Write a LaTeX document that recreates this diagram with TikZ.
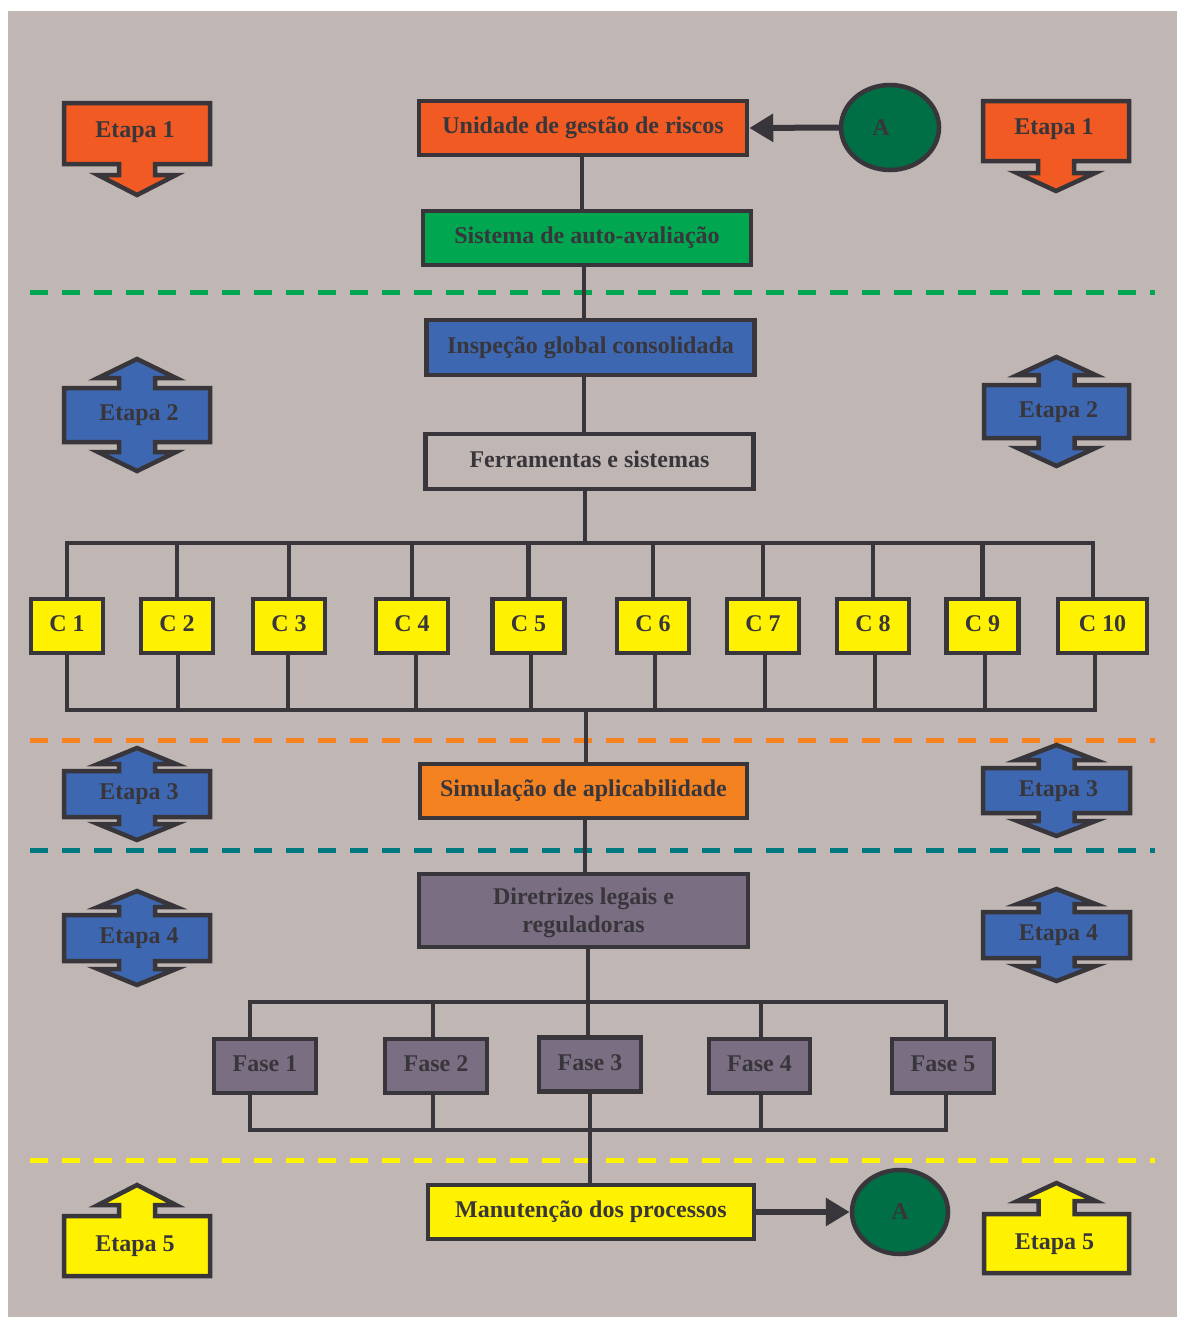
\documentclass[tikz,border=0pt]{standalone}
\usepackage{fontspec}
\setmainfont{Liberation Serif}
\usetikzlibrary{shapes.geometric,arrows.meta}

\definecolor{paper}{HTML}{C0B6B3}
\definecolor{ink}{HTML}{38363B}
\definecolor{laranja}{HTML}{F15A22}
\definecolor{verde}{HTML}{00A650}
\definecolor{verdeesc}{HTML}{006F45}
\definecolor{azul}{HTML}{3D67B0}
\definecolor{amarelo}{HTML}{FFF200}
\definecolor{lilas}{HTML}{7A6E83}
\definecolor{laranjaclaro}{HTML}{F58220}
\definecolor{petroleo}{HTML}{00787F}

\newcommand{\diagfont}{\fontsize{24}{28}\selectfont\bfseries}

\tikzset{
  basebox/.style={draw=ink, line width=4.5pt, rectangle, inner sep=0pt,
    font=\diagfont, text=ink, align=center},
  box/.style={basebox, text height=16pt, text depth=5pt, minimum height=54pt},
  mainbox/.style={box, minimum width=328pt},
  cbox/.style={box, fill=amarelo, minimum width=72pt},
  fasebox/.style={box, fill=lilas, minimum width=102pt},
  link/.style={draw=ink, line width=4.5pt, line join=miter},
  flow/.style={draw=ink, line width=6pt, -{Triangle[length=24pt,width=27pt]}},
  marco/.style={ellipse, draw=ink, line width=4.5pt, fill=verdeesc, inner sep=0pt},
  divisa/.style={line width=5pt, dash pattern=on 18pt off 14pt},
  stage/.style={draw=ink, line width=4.5pt, line join=miter, miter limit=12},
  stagetext/.style={font=\diagfont, text=ink, text height=16pt, text depth=5pt, inner sep=0pt},
}

% Stage block with arrow heads above and below
% #1 name, #2 x1, #3 y1, #4 x2, #5 y2 (outer edges), #6 stem, #7 head, #8 fill, #9 text
\newcommand{\EtapaDupla}[9]{%
  \pgfmathsetmacro{\ecx}{(#2+#4)/2}%
  \pgfmathsetmacro{\ea}{#2+2}\pgfmathsetmacro{\eb}{#4-2}%
  \pgfmathsetmacro{\et}{#3+2}\pgfmathsetmacro{\eu}{#5-2}%
  \pgfmathsetmacro{\esl}{\ecx-18}\pgfmathsetmacro{\esr}{\ecx+18}%
  \pgfmathsetmacro{\ehl}{\ecx-39}\pgfmathsetmacro{\ehr}{\ecx+39}%
  \pgfmathsetmacro{\etb}{#3-#6+2}\pgfmathsetmacro{\ett}{#3-#6-#7+2}%
  \pgfmathsetmacro{\ebb}{#5+#6-2}\pgfmathsetmacro{\ebt}{#5+#6+#7-2}%
  \draw[stage, fill=#8] (\ea,\et) -- (\esl,\et) -- (\esl,\etb) -- (\ehl,\etb)
    -- (\ecx,\ett) -- (\ehr,\etb) -- (\esr,\etb) -- (\esr,\et) -- (\eb,\et)
    -- (\eb,\eu) -- (\esr,\eu) -- (\esr,\ebb) -- (\ehr,\ebb) -- (\ecx,\ebt)
    -- (\ehl,\ebb) -- (\esl,\ebb) -- (\esl,\eu) -- (\ea,\eu) -- cycle;
  \node[stagetext] (#1) at (\ecx+2,{(#3+#5)/2}) {#9};
}

% Stage block with a single arrow head below
\newcommand{\EtapaBaixo}[9]{%
  \pgfmathsetmacro{\ecx}{(#2+#4)/2}%
  \pgfmathsetmacro{\ea}{#2+2}\pgfmathsetmacro{\eb}{#4-2}%
  \pgfmathsetmacro{\et}{#3+2}\pgfmathsetmacro{\eu}{#5-2}%
  \pgfmathsetmacro{\esl}{\ecx-18}\pgfmathsetmacro{\esr}{\ecx+18}%
  \pgfmathsetmacro{\ehl}{\ecx-39}\pgfmathsetmacro{\ehr}{\ecx+39}%
  \pgfmathsetmacro{\ebb}{#5+#6-2}\pgfmathsetmacro{\ebt}{#5+#6+#7-2}%
  \draw[stage, fill=#8] (\ea,\et) -- (\eb,\et)
    -- (\eb,\eu) -- (\esr,\eu) -- (\esr,\ebb) -- (\ehr,\ebb) -- (\ecx,\ebt)
    -- (\ehl,\ebb) -- (\esl,\ebb) -- (\esl,\eu) -- (\ea,\eu) -- cycle;
  \node[stagetext] (#1) at (\ecx-2,{(#3+#5)/2-2}) {#9};
}

% Stage block with a single arrow head above
\newcommand{\EtapaCima}[9]{%
  \pgfmathsetmacro{\ecx}{(#2+#4)/2}%
  \pgfmathsetmacro{\ea}{#2+2}\pgfmathsetmacro{\eb}{#4-2}%
  \pgfmathsetmacro{\et}{#3+2}\pgfmathsetmacro{\eu}{#5-2}%
  \pgfmathsetmacro{\esl}{\ecx-18}\pgfmathsetmacro{\esr}{\ecx+18}%
  \pgfmathsetmacro{\ehl}{\ecx-39}\pgfmathsetmacro{\ehr}{\ecx+39}%
  \pgfmathsetmacro{\etb}{#3-#6+2}\pgfmathsetmacro{\ett}{#3-#6-#7+2}%
  \draw[stage, fill=#8] (\ea,\et) -- (\esl,\et) -- (\esl,\etb) -- (\ehl,\etb)
    -- (\ecx,\ett) -- (\ehr,\etb) -- (\esr,\etb) -- (\esr,\et) -- (\eb,\et)
    -- (\eb,\eu) -- (\ea,\eu) -- cycle;
  \node[stagetext] (#1) at (\ecx-2,{(#3+#5)/2}) {#9};
}

\begin{document}
\begin{tikzpicture}[x=1pt,y=-1pt]
\useasboundingbox (0,0) rectangle (1177,1317);
\fill[paper] (8,11) rectangle (1177,1317);

% phase dividers
\draw[divisa, draw=verde] (30,292) -- (1155,292);
\draw[divisa, draw=laranjaclaro] (30,740) -- (1155,740);
\draw[divisa, draw=petroleo] (30,850) -- (1155,850);
\draw[divisa, draw=amarelo] (30,1160) -- (1155,1160);

% stage markers
\EtapaBaixo{e1l}{62}{101}{212}{166}{11}{20}{laranja}{Etapa 1}
\EtapaBaixo{e1r}{981}{99}{1131}{163}{12}{18}{laranja}{Etapa 1}
\EtapaDupla{e2l}{62}{386}{212}{444}{10}{19}{azul}{Etapa 2}
\EtapaDupla{e2r}{982}{383}{1131}{440}{10}{18}{azul}{Etapa 2}
\EtapaDupla{e3l}{62}{769}{212}{819}{7}{16}{azul}{Etapa 3}
\EtapaDupla{e3r}{981}{766}{1132}{815}{8}{15}{azul}{Etapa 3}
\EtapaDupla{e4l}{62}{913}{212}{963}{8}{16}{azul}{Etapa 4}
\EtapaDupla{e4r}{981}{910}{1132}{960}{8}{15}{azul}{Etapa 4}
\EtapaCima{e5l}{62}{1214}{212}{1278}{11}{20}{amarelo}{Etapa 5}
\EtapaCima{e5r}{982}{1212}{1131}{1275}{13}{18}{amarelo}{Etapa 5}

% main flow
\node[mainbox, fill=laranja] (uni) at (583,128) {Unidade de gestão de riscos};
\node[mainbox, fill=verde] (sis) at (587,238) {Sistema de auto-avaliação};
\node[mainbox, fill=azul, minimum height=55pt] (insp) at (590.5,347.5) {Inspeção global consolidada};
\node[mainbox, minimum height=55pt] (ferr) at (589.5,461.5) {Ferramentas e sistemas};
\node[mainbox, fill=laranjaclaro, minimum width=327pt] (sim) at (583.5,791) {Simulação de aplicabilidade};
\node[basebox, fill=lilas, minimum width=329pt, minimum height=73pt, text depth=0pt] (dir) at (583.5,910.5)
  {Diretrizes legais e\\reguladoras};
\node[mainbox, fill=amarelo, minimum width=326pt] (man) at (591,1212) {Manutenção dos processos};

\node[marco, minimum width=98pt, minimum height=85pt,
  label={[font=\diagfont, text=ink, xshift=-9pt]center:A}] (atop) at (890,127.5) {};
\node[marco, minimum width=96pt, minimum height=84pt,
  label={[font=\diagfont, text=ink]center:A}] (abot) at (900,1212) {};

% control points
\node[cbox] (c1) at (67,626) {C 1};
\node[cbox] (c2) at (177,626) {C 2};
\node[cbox] (c3) at (289,626) {C 3};
\node[cbox] (c4) at (412,626) {C 4};
\node[cbox] (c5) at (528.5,626) {C 5};
\node[cbox] (c6) at (653,626) {C 6};
\node[cbox] (c7) at (763,626) {C 7};
\node[cbox] (c8) at (873,626) {C 8};
\node[cbox] (c9) at (982.5,626) {C 9};
\node[cbox, minimum width=89pt] (c10) at (1102.5,626) {C 10};

% phases
\node[fasebox] (f1) at (265,1066) {Fase 1};
\node[fasebox] (f2) at (436,1066) {Fase 2};
\node[fasebox] (f3) at (590,1064.5) {Fase 3};
\node[fasebox, minimum width=101pt] (f4) at (759.5,1066) {Fase 4};
\node[fasebox] (f5) at (943,1066) {Fase 5};

% bus and trunk reference points
\coordinate (tbus) at (0,543);
\coordinate (bbus) at (0,710);
\coordinate (c10t) at (1093,543);
\coordinate (c10b) at (1095,710);
\coordinate (k1) at (582,0);
\coordinate (k2) at (584,0);
\coordinate (k4) at (585,0);
\coordinate (k5) at (586,0);
\coordinate (k6) at (585,0);
\coordinate (ft1) at (250,1002);
\coordinate (ft2) at (433,1002);
\coordinate (ft3) at (588,1002);
\coordinate (ft4) at (761,1002);
\coordinate (ft5) at (946,1002);
\coordinate (fb1) at (250,1130);
\coordinate (fb2) at (433,1130);
\coordinate (fb3) at (590,1130);
\coordinate (fb4) at (761,1130);
\coordinate (fb5) at (946,1130);

% trunk connectors
\draw[link] (uni.south -| k1) -- (sis.north -| k1);
\draw[link] (sis.south -| k2) -- (insp.north -| k2);
\draw[link] (insp.south -| k2) -- (ferr.north -| k2);
\draw[link] (ferr.south -| k4) -- (k4 |- tbus);
\draw[link] (k5 |- bbus) -- (sim.north -| k5);
\draw[link] (sim.south -| k6) -- (dir.north -| k6);
\draw[link] (dir.south -| ft3) -- (ft3);
\draw[link] (fb3) -- (man.north -| fb3);

% control point buses
\draw[link] (c1.north) |- (c10t) -- (c10t |- c10.north);
\foreach \i in {2,...,9} \draw[link] (c\i.north) -- (c\i.north |- tbus);
\draw[link] (c1.south) |- (c10b) -- (c10b |- c10.south);
\foreach \i/\x in {2/178,3/288,4/416,5/531,6/655,7/765,8/875,9/985}
  \draw[link] (c\i.south -| \x,0) -- (\x,710);

% phase buses
\draw[link] (f1.north -| ft1) -- (ft1) -- (ft5) -- (f5.north -| ft5);
\draw[link] (ft2) -- (f2.north -| ft2);
\draw[link] (ft3) -- (f3.north -| ft3);
\draw[link] (ft4) -- (f4.north -| ft4);
\draw[link] (f1.south -| fb1) -- (fb1) -- (fb5) -- (f5.south -| fb5);
\draw[link] (fb2) -- (f2.south -| fb2);
\draw[link] (fb3) -- (f3.south -| fb3);
\draw[link] (fb4) -- (f4.south -| fb4);

% loop arrows through the A connector
\draw[flow] (atop.west) -- (uni.east);
\draw[flow] (man.east) -- (abot.west);
\end{tikzpicture}
\end{document}
